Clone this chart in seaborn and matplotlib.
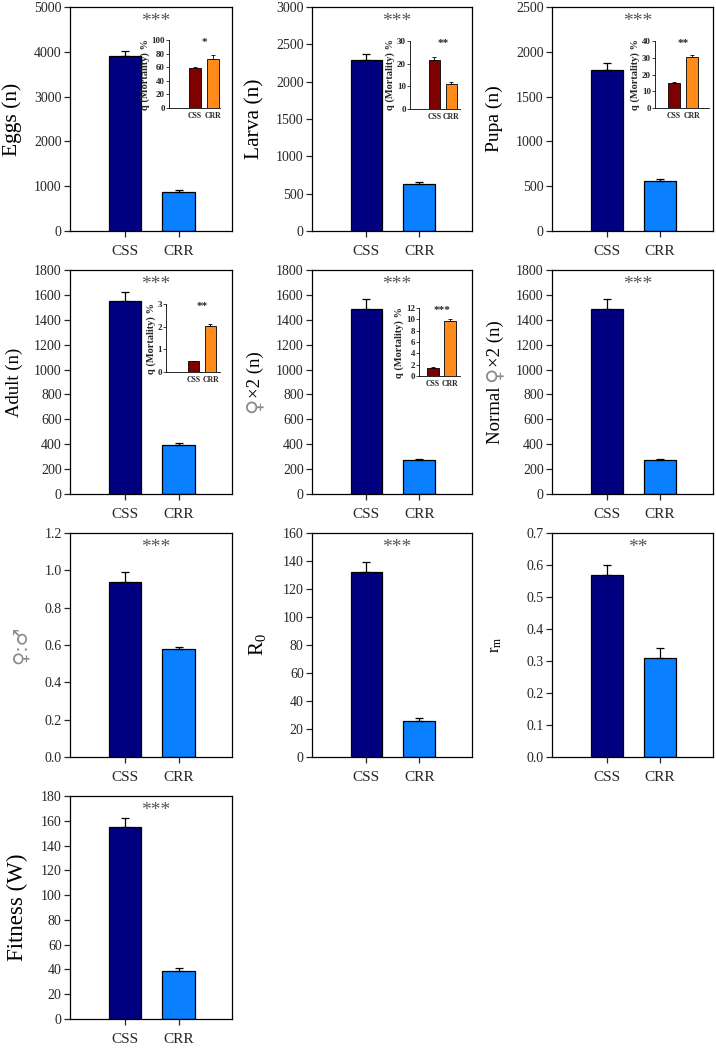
import matplotlib
matplotlib.use('Agg')
import matplotlib.pyplot as plt
from matplotlib.ticker import MultipleLocator, FormatStrFormatter
from matplotlib.transforms import IdentityTransform
import seaborn as sns

# ---- data ----
groups = ['CSS', 'CRR']

eggs = [3900, 880]
eggs_err = [110, 40]
larva = [2290, 625]
larva_err = [80, 30]
pupa = [1800, 560]
pupa_err = [75, 20]
adult = [1550, 390]
adult_err = [70, 20]
female2 = [1490, 270]
female2_err = [75, 12]
normal_female2 = [1490, 270]
normal_female2_err = [75, 12]
sex_ratio = [0.94, 0.58]
sex_ratio_err = [0.05, 0.007]
r0 = [132, 26]
r0_err = [7, 2]
rm = [0.57, 0.31]
rm_err = [0.03, 0.03]
fitness = [155, 39]
fitness_err = [7, 2]

# mortality insets, q (%)
q_eggs = [59, 71.5]
q_eggs_err = [1, 6]
q_larva = [21.5, 11]
q_larva_err = [1.5, 1]
q_pupa = [14.7, 30.5]
q_pupa_err = [0.7, 1]
q_adult = [0.5, 2.05]
q_adult_err = [0, 0.08]
q_female = [1.5, 9.7]
q_female_err = [0.07, 0.35]

main_colors = ['#000080', '#0a7fff']
inset_colors = ['#7f0000', '#ff8c1a']

sns.set_style('ticks')
plt.rcParams['font.family'] = ['Liberation Serif', 'DejaVu Sans']
plt.rcParams['mathtext.fontset'] = 'custom'
plt.rcParams['mathtext.rm'] = 'Liberation Serif'
plt.rcParams['mathtext.it'] = 'Liberation Serif:italic'
SERIF = ['Liberation Serif', 'DejaVu Sans']
SYM = ['DejaVu Sans']

W, H = 716, 1048
fig = plt.figure(figsize=(W / 100, H / 100), dpi=100)


def px_axes(left, top, right, bottom):
    return fig.add_axes([left / W, 1 - bottom / H, (right - left) / W, (bottom - top) / H])


def draw_bars(ax, vals, errs, colors, width, lw, capsize):
    sns.barplot(x=groups, y=vals, hue=groups, palette=colors, legend=False, saturation=1,
                width=width, edgecolor='black', linewidth=lw, errorbar=None, ax=ax)
    ax.errorbar([0, 1], vals, yerr=[[0, 0], errs], fmt='none', ecolor='black',
                elinewidth=lw, capsize=capsize, capthick=lw, zorder=3)


cols = [(70, 232), (312, 472), (552, 713)]
rows = [(7, 231), (270, 494), (533, 757), (796, 1019)]

GRAY = '#8a8a8a'


def lab(s, size, color='black', fam=SERIF):
    return (s, color, size, fam)


# (values, errors, ymax, step, fmt, label pieces, label offset, stars)
panels = [
    (eggs, eggs_err, 5000, 1000, '%d', [lab('Eggs (n)', 15.5)], 53, '***'),
    (larva, larva_err, 3000, 500, '%d', [lab('Larva (n)', 15.5)], 53, '***'),
    (pupa, pupa_err, 2500, 500, '%d', [lab('Pupa (n)', 14)], 53, '***'),
    (adult, adult_err, 1800, 200, '%d', [lab('Adult (n)', 13.5)], 51, '***'),
    (female2, female2_err, 1800, 200, '%d',
     [lab('♀', 15, GRAY, SYM), lab('×2 (n)', 13.5)], 52, '***'),
    (normal_female2, normal_female2_err, 1800, 200, '%d',
     [lab('Normal ', 13.5), lab('♀', 15, GRAY, SYM), lab('×2 (n)', 13.5)], 52, '***'),
    (sex_ratio, sex_ratio_err, 1.2, 0.2, '%.1f', [lab('♀:♂', 14, GRAY, SYM)], 44, '***'),
    (r0, r0_err, 160, 20, '%d', [lab(r'$\mathrm{R}_0$', 15)], 49, '***'),
    (rm, rm_err, 0.7, 0.1, '%.1f', [lab(r'$\mathrm{r}_\mathrm{m}$', 12)], 52, '**'),
    (fitness, fitness_err, 180, 20, '%d', [lab('Fitness (W)', 16.5)], 47, '***'),
]

renderer = fig.canvas.get_renderer()
for i, (vals, errs, ymax, step, fmt, pieces, loff, stars) in enumerate(panels):
    l, r = cols[i % 3]
    t, b = rows[i // 3]
    ax = px_axes(l, t, r, b)
    draw_bars(ax, vals, errs, main_colors, 0.6, 0.9, 3.2)
    ax.set_xlim(-1.03, 2.0)
    ax.set_ylim(0, ymax)
    ax.yaxis.set_major_locator(MultipleLocator(step))
    ax.yaxis.set_major_formatter(FormatStrFormatter(fmt))
    ax.set_xlabel('')
    ax.set_ylabel('')
    for sp in ax.spines.values():
        sp.set_visible(True)
        sp.set_linewidth(0.9)
        sp.set_color('black')
    ax.tick_params(axis='y', direction='out', length=4, width=0.9, labelsize=10, pad=2)
    ax.tick_params(axis='x', direction='out', length=4, width=0.9, labelsize=11, pad=6)
    ax.text(0.53, 0.935, stars, transform=ax.transAxes, ha='center', va='center',
            fontsize=14, color='#555555')

    # y label, pieces stacked bottom-to-top (some parts grey)
    bb = ax.get_window_extent(renderer)
    txts = [fig.text(0, 0, s, color=c, fontsize=fs, family=fam, rotation=90,
                     rotation_mode='anchor', ha='left', va='baseline',
                     transform=IdentityTransform())
            for s, c, fs, fam in pieces]
    lens = [tx.get_window_extent(renderer).height for tx in txts]
    y = (bb.y0 + bb.y1) / 2 - sum(lens) / 2
    for tx, L in zip(txts, lens):
        tx.set_position((bb.x0 - loff, y))
        y += L

# ---- mortality insets ----
# (values, errors, ymax, step, stars, pixel box, xlim)
insets = [
    (q_eggs, q_eggs_err, 100, 20, '*', (169, 40, 220, 108), (-1.44, 1.39)),
    (q_larva, q_larva_err, 30, 10, '**', (410, 41, 460, 109), (-1.43, 1.51)),
    (q_pupa, q_pupa_err, 40, 10, '**', (655, 41, 709, 108), (-1.07, 1.99)),
    (q_adult, q_adult_err, 3, 1, '**', (166, 304, 220, 372), (-1.65, 1.57)),
    (q_female, q_female_err, 12, 2, '***', (419, 308, 460, 376), (-0.80, 1.57)),
]

for vals, errs, ymax, step, stars, box, xl in insets:
    ax = px_axes(*box)
    draw_bars(ax, vals, errs, inset_colors, 0.68, 0.6, 1.5)
    ax.set_xlim(*xl)
    ax.set_ylim(0, ymax)
    ax.yaxis.set_major_locator(MultipleLocator(step))
    ax.set_xlabel('')
    ax.set_ylabel('q (Mortality) %', fontsize=7.5, fontweight='bold', labelpad=1)
    ax.patch.set_alpha(0)
    ax.spines['top'].set_visible(False)
    ax.spines['right'].set_visible(False)
    for s in ('left', 'bottom'):
        ax.spines[s].set_linewidth(0.6)
        ax.spines[s].set_color('black')
    ax.tick_params(axis='y', direction='out', length=2, width=0.6, labelsize=6.5, pad=1)
    ax.tick_params(axis='x', length=0, labelsize=5.6, pad=3)
    for t in ax.get_xticklabels() + ax.get_yticklabels():
        t.set_fontweight('bold')
    ax.text(0.5, ymax * 0.97, stars, ha='center', va='center', fontsize=8, fontweight='bold')

fig.savefig('out.png', dpi=100)
